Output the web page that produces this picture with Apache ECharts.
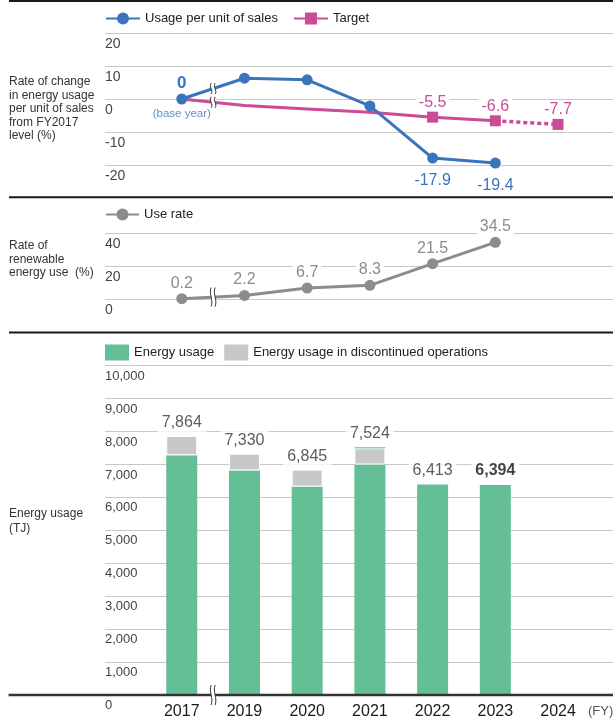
<!DOCTYPE html>
<html><head><meta charset="utf-8">
<script src="https://cdn.jsdelivr.net/npm/echarts@6/dist/echarts.min.js"></script>
<style>html,body{margin:0;padding:0;background:#fff}#c{width:613px;height:724px}</style>
</head><body><div id="c"></div>
<script>
// ---------- data ----------
const years = ['2017', '2019', '2020', '2021', '2022', '2023', '2024'];
const usagePerSales = [0, 6.3, 5.8, -2.1, -17.9, -19.4, null];
const targetVals = [0, -2.0, -3.0, -4.0, -5.5, -6.6, -7.7];
const renewableRate = [0.2, 2.2, 6.7, 8.3, 21.5, 34.5, null];
const energyUsage = [7280, 6820, 6330, 7000, 6413, 6394, null];
const discontinuedUsage = [584, 510, 515, 490, 0, 0, null];
const energyUsageCap = [0, 0, 0, 34, 0, 0, null];
const energyTotals = [7864, 7330, 6845, 7524, 6413, 6394, null];
const ratioTicks = [-20, -10, 0, 10, 20];
const renewTicks = [0, 20, 40];
const energyTicks = [0, 1000, 2000, 3000, 4000, 5000, 6000, 7000, 8000, 9000, 10000];
const legendTop = ['Usage per unit of sales', 'Target'];
const legendMid = ['Use rate'];
const legendBot = ['Energy usage', 'Energy usage in discontinued operations'];

// ---------- style ----------
const FF = '"Liberation Sans", Arial, Helvetica, sans-serif';
const BLUE = '#3a74bd', PINK = '#cc4b98', GRAYL = '#8c8c8c', GREEN = '#65bf96', BARGRAY = '#c8c8c8';
const GRIDC = '#c8c8c8';
const DL = 150.4, DW = 439;
const G = {
  top: {top: 33, height: 132},
  mid: {top: 233.3, height: 65.7},
  bot: {top: 365.7, height: 329.3}
};
const fmt1 = v => (v < 0 ? '-' : '') + Math.abs(v).toFixed(1);
const fmtK = v => Number(v).toLocaleString('en-US');

function bgY(gi, ticks, fs, formatter) {
  return {
    gridIndex: gi, type: 'value', min: ticks[0], max: ticks[ticks.length - 1], interval: ticks[1] - ticks[0],
    axisLine: {show: false}, axisTick: {show: false},
    splitLine: {show: true, lineStyle: {color: GRIDC, width: 1}},
    axisLabel: {inside: true, margin: 0, verticalAlign: 'top', padding: [4, 0, 0, 0], fontSize: fs, color: '#444', fontFamily: FF, formatter: formatter}
  };
}
function dataY(gi, ticks) {
  return {gridIndex: gi, type: 'value', min: ticks[0], max: ticks[ticks.length - 1], interval: ticks[1] - ticks[0], show: false, splitLine: {show: false}};
}
const dataLbl = (color, pos, dist) => ({show: true, position: pos, distance: dist, fontSize: 16, color: color, fontFamily: FF, backgroundColor: '#fff', padding: [0, 3], formatter: p => fmt1(p.value)});

// series data
const lastIdx = energyTotals.reduce((a, v, i) => v != null ? i : a, 0);
const blueData = usagePerSales.map((v, i) => {
  if (v == null) return null;
  if (i === 0) return {value: v, label: {show: true, position: 'top', distance: 2, fontSize: 17, fontWeight: 'bold', color: BLUE, fontFamily: FF, formatter: p => String(p.value)}};
  if (i >= 4) return {value: v, label: dataLbl(BLUE, 'bottom', 9)};
  return v;
});
const pinkSolid = targetVals.map((v, i) => {
  if (i > 5) return null;
  if (i < 4) return {value: v, symbol: 'none'};
  return {value: v, label: dataLbl(PINK, 'top', 1)};
});
const pinkDotted = targetVals.map((v, i) => {
  if (i < 5) return null;
  if (i === 5) return {value: v, symbol: 'none'};
  return {value: v, label: dataLbl(PINK, 'top', 1)};
});
const grayData = renewableRate.map(v => v == null ? null : {value: v, label: dataLbl(GRAYL, 'top', 2)});
const totalsData = energyTotals.map((v, i) => v == null ? null : {
  value: [i, v],
  label: {show: true, position: 'top', distance: 3, fontSize: 16, fontFamily: FF, backgroundColor: '#fff', padding: [2, 4],
    color: i === lastIdx ? '#111' : '#333', fontWeight: i === lastIdx ? 'bold' : 'normal', formatter: p => fmtK(p.value[1])}
});

const legendBase = {itemGap: 15, textStyle: {fontSize: 13, color: '#222', fontFamily: FF}, selectedMode: false, padding: 0};

const option = {
  animation: false,
  backgroundColor: '#fff',
  textStyle: {fontFamily: FF},
  grid: [
    {left: 105, right: 0, top: G.top.top, height: G.top.height},
    {left: DL, width: DW, top: G.top.top, height: G.top.height},
    {left: 105, right: 0, top: G.mid.top, height: G.mid.height},
    {left: DL, width: DW, top: G.mid.top, height: G.mid.height},
    {left: 105, right: 0, top: G.bot.top, height: G.bot.height},
    {left: DL, width: DW, top: G.bot.top, height: G.bot.height}
  ],
  xAxis: [
    {gridIndex: 0, type: 'value', show: false, splitLine: {show: false}},
    {gridIndex: 1, type: 'category', data: years, show: false},
    {gridIndex: 2, type: 'value', show: false, splitLine: {show: false}},
    {gridIndex: 3, type: 'category', data: years, show: false},
    {gridIndex: 4, type: 'value', show: false, splitLine: {show: false}},
    {gridIndex: 5, type: 'category', data: years, axisLine: {show: false}, axisTick: {show: false},
      axisLabel: {fontSize: 16, color: '#1a1a1a', margin: 9, fontFamily: FF}}
  ],
  yAxis: [
    bgY(0, ratioTicks, 14), dataY(1, ratioTicks),
    bgY(2, renewTicks, 14), dataY(3, renewTicks),
    bgY(4, energyTicks, 13, v => fmtK(v)), dataY(5, energyTicks)
  ],
  legend: [
    Object.assign({}, legendBase, {data: legendTop, left: 105, top: 12, itemWidth: 34, itemHeight: 15}),
    Object.assign({}, legendBase, {data: legendMid, left: 105, top: 208, itemWidth: 33, itemHeight: 15}),
    Object.assign({}, legendBase, {data: legendBot, left: 105, top: 344.5, itemWidth: 24, itemHeight: 16, itemGap: 10, icon: 'rect', itemStyle: {borderWidth: 0}})
  ],
  series: [
    {type: 'line', name: 'Target', xAxisIndex: 1, yAxisIndex: 1, data: pinkSolid, symbol: 'rect', symbolSize: 11,
      lineStyle: {color: PINK, width: 3}, itemStyle: {color: PINK}, z: 3},
    {type: 'line', name: 'Target (plan)', xAxisIndex: 1, yAxisIndex: 1, data: pinkDotted, symbol: 'rect', symbolSize: 11,
      lineStyle: {color: PINK, width: 3.5, type: [4, 3]}, itemStyle: {color: PINK}, z: 3},
    {type: 'line', name: 'Usage per unit of sales', xAxisIndex: 1, yAxisIndex: 1, data: blueData, symbol: 'circle', symbolSize: 11,
      lineStyle: {color: BLUE, width: 3}, itemStyle: {color: BLUE}, z: 4},
    {type: 'scatter', name: 'base', xAxisIndex: 1, yAxisIndex: 1, data: [[0, usagePerSales[0]]], symbolSize: 11, itemStyle: {color: 'rgba(0,0,0,0)'}, silent: true,
      label: {show: true, position: 'bottom', distance: 3.5, fontSize: 11.5, color: BLUE, fontFamily: FF, formatter: '(base year)'}, z: 5},
    {type: 'line', name: 'Use rate', xAxisIndex: 3, yAxisIndex: 3, data: grayData, symbol: 'circle', symbolSize: 11,
      lineStyle: {color: GRAYL, width: 3}, itemStyle: {color: GRAYL}, z: 4},
    {type: 'bar', name: 'Energy usage', stack: 'e', xAxisIndex: 5, yAxisIndex: 5, data: energyUsage, barWidth: 31, itemStyle: {color: GREEN}},
    {type: 'bar', name: 'Energy usage in discontinued operations', stack: 'e', xAxisIndex: 5, yAxisIndex: 5, data: discontinuedUsage, barWidth: 31,
      itemStyle: {color: BARGRAY, borderColor: '#fff', borderWidth: 1}},
    {type: 'bar', name: 'Energy usage', stack: 'e', xAxisIndex: 5, yAxisIndex: 5, data: energyUsageCap, barWidth: 31, itemStyle: {color: GREEN}},
    {type: 'scatter', name: 'totals', xAxisIndex: 5, yAxisIndex: 5, data: totalsData, symbolSize: 1, itemStyle: {color: 'rgba(0,0,0,0)'}, silent: true, z: 6}
  ]
};

const chart = echarts.init(document.getElementById('c'), null, {renderer: 'canvas'});
chart.setOption(option);

// ---------- decorations ----------
function mid(gi, arr) {
  const a = chart.convertToPixel({gridIndex: gi}, [0, arr[0]]);
  const b = chart.convertToPixel({gridIndex: gi}, [1, arr[1]]);
  return [(a[0] + b[0]) / 2, (a[1] + b[1]) / 2];
}
function breakMark(c, h) {
  const [x, y] = c;
  const curve = xx => ({type: 'bezierCurve', shape: {x1: xx, y1: y - h / 2, cpx1: xx - 2.6, cpy1: y - h / 6, cpx2: xx + 2.6, cpy2: y + h / 6, x2: xx, y2: y + h / 2},
    style: {fill: null, stroke: '#333', lineWidth: 1}, z: 101});
  return [
    {type: 'rect', shape: {x: x - 2, y: y - h * 0.38, width: 4, height: h * 0.76}, style: {fill: '#fff'}, z: 100},
    curve(x - 2), curve(x + 2)
  ];
}
const sep = (y, x0, w, col) => ({type: 'line', shape: {x1: x0, y1: y, x2: 613, y2: y}, style: {stroke: col, lineWidth: w}, z: 50});
const axisY = chart.convertToPixel({gridIndex: 5}, [0, 0])[1];
const title = (txt, y, lh) => ({type: 'text', x: 9, y: y, style: {text: txt, fontSize: 12, lineHeight: lh, fill: '#333', fontFamily: FF, verticalAlign: 'top'}});
const graphics = [
  sep(1, 9, 2, '#1a1a1a'), sep(197.3, 9, 2, '#1a1a1a'), sep(332.5, 9, 2, '#1a1a1a'),
  sep(axisY, 8.6, 2.5, '#333'),
  title('Rate of change\nin energy usage\nper unit of sales\nfrom FY2017\nlevel (%)', 75, 13.5),
  title('Rate of\nrenewable\nenergy use  (%)', 239, 13.5),
  title('Energy usage\n(TJ)', 506.5, 15),
  {type: 'text', x: 588, y: 711, style: {text: '(FY)', fontSize: 13, fill: '#555', fontFamily: FF, verticalAlign: 'middle'}}
].concat(
  breakMark(mid(1, usagePerSales), 11),
  breakMark(mid(1, targetVals), 11),
  breakMark(mid(3, renewableRate), 19),
  breakMark([mid(5, [0, 0])[0], axisY], 20)
);
chart.setOption({graphic: graphics});
</script>
</body></html>
